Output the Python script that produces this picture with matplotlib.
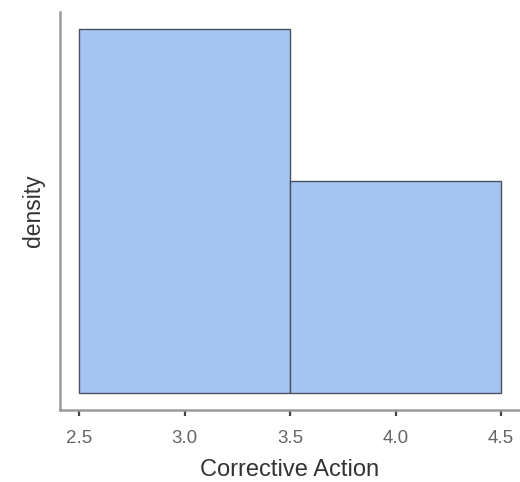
import matplotlib
matplotlib.use("Agg")
import matplotlib.pyplot as plt

plt.rcParams["font.family"] = ["Liberation Sans", "DejaVu Sans"]

bin_edges = [2.5, 3.5, 4.5]
densities = [0.632, 0.368]
xticks = [2.5, 3.0, 3.5, 4.0, 4.5]
xticklabels = ["2.5", "3.0", "3.5", "4.0", "4.5"]

fig = plt.figure(figsize=(5.2, 4.82), dpi=100)
ax = fig.add_axes([0.1154, 0.1494, 0.8846, 0.8257])

lefts = bin_edges[:-1]
widths = [bin_edges[i + 1] - bin_edges[i] for i in range(len(lefts))]
ax.bar(lefts, densities, width=widths, align="edge", color="#a6c4f2",
       edgecolor="#4a5060", linewidth=1.0)

ax.set_xlim(2.41, 4.59)
ymax = max(densities)
ax.set_ylim(-0.047 * ymax, 1.047 * ymax)
ax.set_xticks(xticks)
ax.set_xticklabels(xticklabels)
ax.set_yticks([])

for s in ["top", "right"]:
    ax.spines[s].set_visible(False)
for s in ["left", "bottom"]:
    ax.spines[s].set_color("#9a9a9a")
    ax.spines[s].set_linewidth(1.8)

ax.tick_params(axis="x", colors="#444444", labelcolor="#666666", length=4,
               width=1.6, labelsize=13.5, pad=10.5)
ax.set_xlabel("Corrective Action", fontsize=17, color="#333333", labelpad=8.5)
ax.set_ylabel("density", fontsize=16.5, color="#333333", labelpad=11)

fig.savefig("out.png", dpi=100)
